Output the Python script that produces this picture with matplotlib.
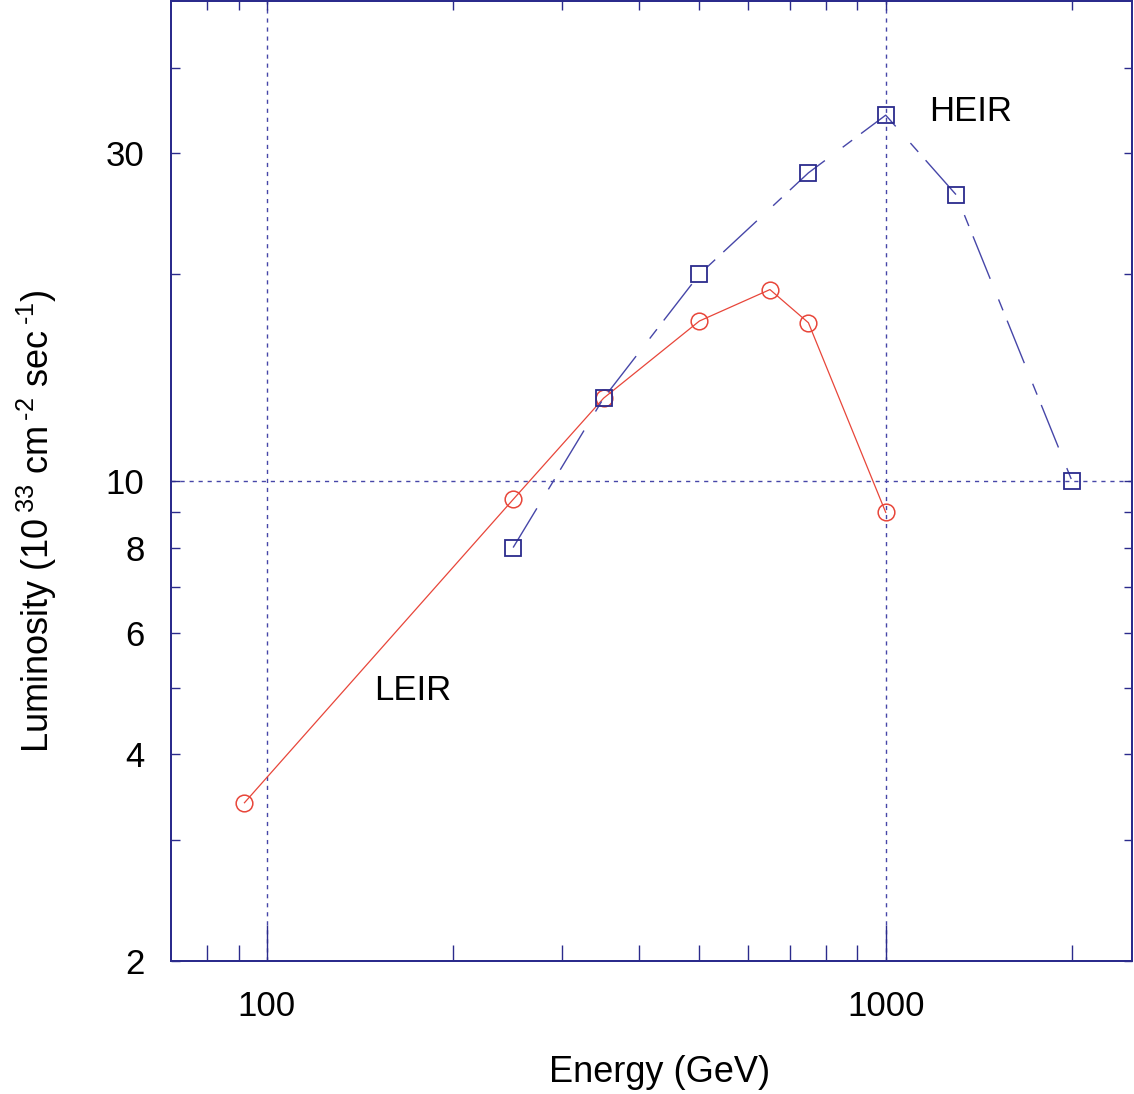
import matplotlib
matplotlib.use('Agg')
import matplotlib.pyplot as plt
from matplotlib.ticker import FixedLocator, FuncFormatter, NullFormatter

plt.rcParams['font.family'] = ['Liberation Sans', 'DejaVu Sans']
plt.rcParams['mathtext.fontset'] = 'custom'
plt.rcParams['mathtext.rm'] = 'Liberation Sans'
plt.rcParams['mathtext.it'] = 'Liberation Sans:italic'

# data
leir_energy = [92, 250, 350, 500, 650, 750, 1000]
leir_lumi = [3.4, 9.4, 13.2, 17.1, 19.0, 17.0, 9.0]

heir_energy = [250, 350, 500, 750, 1000, 1300, 2000]
heir_lumi = [8.0, 13.2, 20.0, 28.1, 34.1, 26.1, 10.0]

x_major = [100, 1000]
x_minor = [80, 90, 200, 300, 400, 500, 600, 700, 800, 900, 2000]
y_major = [2, 4, 6, 8, 10, 30]
y_minor = [3, 5, 7, 9, 20, 40]

navy = '#2b2b8c'
red = '#e8463a'
blue = '#4646a8'

fig = plt.figure(figsize=(11.34, 10.94), dpi=100)
ax = fig.add_axes([171/1134, 133/1094, 961/1134, 960/1094])

ax.set_xscale('log')
ax.set_yscale('log')
ax.set_xlim(70, 2500)
ax.set_ylim(2, 50)

# grid lines at 100, 1000 and 10
for xv in x_major:
    ax.axvline(xv, color=blue, lw=1.0, ls=(0, (3, 3.5)), zorder=1)
ax.axhline(10, color=blue, lw=1.0, ls=(0, (3, 3.5)), zorder=1)

ax.plot(leir_energy, leir_lumi, color=red, lw=0.9, marker='o', ms=12,
        mfc='none', mec=red, mew=1.1, zorder=3)
l, = ax.plot(heir_energy, heir_lumi, color=blue, lw=1.0, marker='s', ms=11.5,
             mfc='none', mec=navy, mew=1.3, zorder=3)
l.set_dashes((33, 16, 8.5, 8))

ax.text(1371, 34.5, 'HEIR', fontsize=25, ha='center', va='center')
ax.text(172, 4.95, 'LEIR', fontsize=25, ha='center', va='center')

fmt = FuncFormatter(lambda v, p: '%d' % round(v))
ax.xaxis.set_major_locator(FixedLocator(x_major))
ax.xaxis.set_minor_locator(FixedLocator(x_minor))
ax.xaxis.set_major_formatter(fmt)
ax.xaxis.set_minor_formatter(NullFormatter())
ax.yaxis.set_major_locator(FixedLocator(y_major))
ax.yaxis.set_minor_locator(FixedLocator(y_minor))
ax.yaxis.set_major_formatter(fmt)
ax.yaxis.set_minor_formatter(NullFormatter())

ax.tick_params(axis='x', which='major', direction='in', length=26, width=1.0,
               color=navy, labelsize=25, pad=21)
ax.tick_params(axis='x', which='minor', direction='in', length=11.5, width=1.0,
               color=navy)
ax.tick_params(axis='y', which='both', direction='in', length=6.5, width=1.0,
               color=navy, labelsize=25, pad=19)

for s in ax.spines.values():
    s.set_color(navy)
    s.set_linewidth(1.2)

# top and right ticks (shorter)
axt = ax.twiny()
axt.set_xscale('log')
axt.set_xlim(ax.get_xlim())
axt.xaxis.set_major_locator(FixedLocator(x_major + x_minor))
axt.xaxis.set_minor_locator(FixedLocator([]))
axt.xaxis.set_major_formatter(NullFormatter())
axt.tick_params(axis='x', which='major', direction='in', length=6.5, width=1.0,
                color=navy)
axr = ax.twinx()
axr.set_yscale('log')
axr.set_ylim(ax.get_ylim())
axr.yaxis.set_major_locator(FixedLocator(y_major + y_minor))
axr.yaxis.set_minor_locator(FixedLocator([]))
axr.yaxis.set_major_formatter(NullFormatter())
axr.tick_params(axis='y', which='major', direction='in', length=6, width=1.0,
                color=navy)
for a in (axt, axr):
    for s in a.spines.values():
        s.set_color(navy)
        s.set_linewidth(1.2)

fig.text(660/1134, 1 - 1073/1094, 'Energy (GeV)', fontsize=26,
         ha='center', va='center')
fig.text(37/1134, 1 - 521/1094,
         r'Luminosity (10$\,^{33}$ cm$\,^{\text{-}2}$ sec$\,^{\text{-}1}$)',
         fontsize=26, rotation=90, ha='center', va='center')

fig.savefig('out.png', dpi=100)
